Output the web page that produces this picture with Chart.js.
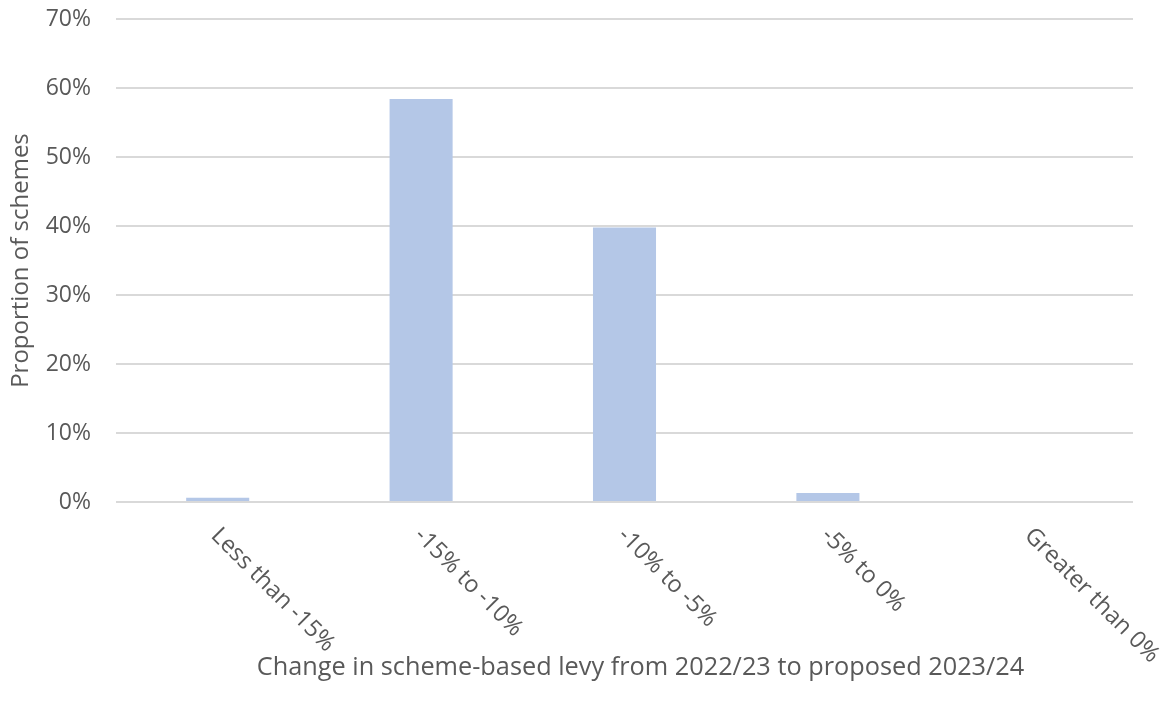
<!DOCTYPE html>
<html>
<head>
<meta charset="utf-8">
<script src="https://cdn.jsdelivr.net/npm/chart.js@4/dist/chart.umd.min.js"></script>
<style>
  html, body { margin: 0; padding: 0; background: #fff; }
  #wrap { width: 1170px; height: 713px; }
</style>
</head>
<body>
<div id="wrap"><canvas id="myChart"></canvas></div>
<script>
// 데이터
const CATEGORIES = ["Less than -15%", "-15% to -10%", "-10% to -5%", "-5% to 0%", "Greater than 0%"];
const VALUES = [0.6, 58.4, 39.8, 1.3, 0]; // % of schemes
const Y_TICKS = [0, 10, 20, 30, 40, 50, 60, 70];
const X_TITLE = "Change in scheme-based levy from 2022/23 to proposed 2023/24";
const Y_TITLE = "Proportion of schemes";

const FONT = "'Open Sans', sans-serif";
const TEXT = "#595959";

// rotated category labels + x title, placed from the x scale
const slantLabels = {
  id: "slantLabels",
  afterDraw(chart) {
    const ctx = chart.ctx;
    const xs = chart.scales.x;
    ctx.save();
    ctx.font = "23.5px " + FONT;
    ctx.fillStyle = TEXT;
    ctx.textAlign = "left";
    ctx.textBaseline = "middle";
    CATEGORIES.forEach((c, i) => {
      const x = xs.getPixelForTick(i);
      ctx.save();
      ctx.translate(x - 3, xs.top + 30);
      ctx.rotate(Math.PI / 4);
      ctx.fillText(c, 0, 0);
      ctx.restore();
    });
    // x axis title (sits a little right of centre in the original)
    ctx.font = "25.3px " + FONT;
    ctx.textAlign = "center";
    ctx.fillText(X_TITLE, (xs.left + xs.right) / 2 + 16, xs.top + 166);
    ctx.restore();
  },
};

const ctx = document.getElementById("myChart").getContext("2d");
new Chart(ctx, {
  type: "bar",
  data: {
    labels: CATEGORIES,
    datasets: [
      {
        data: VALUES,
        backgroundColor: "#b4c7e7",
        borderWidth: 0,
        barPercentage: 0.31,
        categoryPercentage: 1,
      },
    ],
  },
  options: {
    responsive: true,
    maintainAspectRatio: false,
    animation: false,
    layout: { padding: { top: 19, right: 37, bottom: 0, left: 0 } },
    plugins: { legend: { display: false }, tooltip: { enabled: false } },
    scales: {
      x: {
        grid: { display: false },
        border: { display: false },
        ticks: { display: false },
        afterFit(scale) {
          scale.height = 211;
        },
      },
      y: {
        min: 0,
        max: 70,
        afterBuildTicks(scale) {
          scale.ticks = Y_TICKS.map((v) => ({ value: v }));
        },
        grid: { color: "#d9d9d9", lineWidth: 2, drawTicks: false },
        border: { display: false },
        ticks: {
          color: TEXT,
          font: { family: FONT, size: 23 },
          padding: 25,
          callback: (v) => v + "%",
        },
        title: {
          display: true,
          text: Y_TITLE,
          color: TEXT,
          font: { family: FONT, size: 24 },
          padding: { top: 7, bottom: 0 },
        },
        afterFit(scale) {
          scale.width = 116;
          scale.paddingTop = 0;
          scale.paddingBottom = 0;
        },
      },
    },
  },
  plugins: [slantLabels],
});
</script>
</body>
</html>
